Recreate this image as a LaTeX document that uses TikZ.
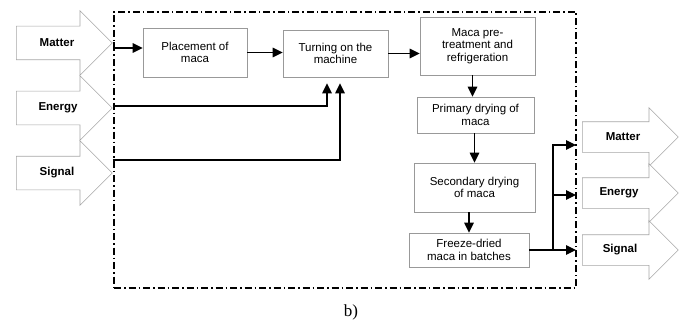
\documentclass[tikz,border=0pt]{standalone}
\usepackage{fontspec}
\setmainfont{Liberation Serif}
\setsansfont{Liberation Sans}
\usetikzlibrary{shapes.arrows,arrows.meta}

\begin{document}
\begin{tikzpicture}
[x=1pt,y=-1pt,%
  box/.style={draw=gray!80,line width=0.6pt,align=center,inner sep=1pt,%
    font=\sffamily\fontsize{11.5}{12.5}\selectfont},%
  inarrow/.style={single arrow,draw=gray!70,fill=white,line width=0.6pt,%
    single arrow tip angle=90,single arrow head extend=15.5pt,%
    minimum height=96pt,inner xsep=0pt,inner ysep=16.5pt,anchor=tail},%
  outarrow/.style={inarrow,single arrow head extend=14pt,inner ysep=15pt},%
  lbl/.style={font=\sffamily\bfseries\fontsize{11.5}{12.5}\selectfont},%
  frame/.style={draw,line width=1.5pt,dash pattern=on 7pt off 3pt on 1.5pt off 3pt},%
  flow/.style={draw,line width=1.1pt,-{Triangle[length=10pt,width=9.5pt]}}]
\useasboundingbox (0,0) rectangle (686,321);
% system border
\node[frame,minimum width=462pt,minimum height=276pt] (sys) at (345,150) {};
% inputs
\node[inarrow] (inM) at (16,43) {};
\node[inarrow] (inE) at (16,108) {};
\node[inarrow] (inS) at (16,173) {};
\node[lbl] (inMl) at (57,43) {Matter};
\node[lbl] (inEl) at (58,108) {Energy};
\node[lbl] (inSl) at (57,173) {Signal};
% outputs
\node[outarrow] (outM) at (582,137) {};
\node[outarrow] (outE) at (582,193) {};
\node[outarrow] (outS) at (582,250) {};
\node[lbl] (outMl) at (623,137) {Matter};
\node[lbl] (outEl) at (619,193) {Energy};
\node[lbl] (outSl) at (620,250) {Signal};
% process steps
\node[box,minimum width=104pt,minimum height=49pt] (place) at (195,52.5) {Placement of\\maca};
\node[box,minimum width=105pt,minimum height=47pt] (turn) at (335.5,53.5) {Turning on the\\machine};
\node[box,minimum width=115pt,minimum height=58pt] (pre) at (477.5,46) {Maca pre-\\treatment and\\refrigeration};
\node[box,minimum width=117pt,minimum height=36pt] (prim) at (475.5,115) {Primary drying of\\maca};
\node[box,minimum width=121pt,minimum height=49pt] (sec) at (474.5,187.5) {Secondary drying\\of maca};
\node[box,minimum width=120pt,minimum height=34pt] (frz) at (469,250) {Freeze-dried\\maca in batches};
\coordinate (jn) at (553,250);
% connectors
\draw[flow] (inM.tip) -- ++(2,0) |- ([yshift=4.5pt]place.west);
\draw[flow] (place.east) -- (place.east -| turn.west);
\draw[flow] (turn.east) -- (turn.east -| pre.west);
\draw[flow,shorten >=6pt] ([yshift=2pt]inE.tip) -| ([xshift=-8.5pt]turn.south);
\draw[flow,shorten >=6pt] ([yshift=13pt]inS.tip) -| ([xshift=4.5pt]turn.south);
\draw[flow] ([xshift=-3pt]prim.north |- pre.south) -- ([xshift=-3pt]prim.north);
\draw[flow] (prim.south -| sec.north) -- (sec.north);
\draw[flow] (sec.south -| frz.north) -- (frz.north);
\draw[line width=1.1pt] (frz.east) -- (jn);
\draw[flow,shorten >=6pt] (jn) -- (jn -| outS.tail);
\draw[flow,shorten >=6pt] (jn) |- ([yshift=-2pt]outE.tail);
\draw[flow,shorten >=6pt] (jn) |- ([yshift=-8pt]outM.tail);
% caption
\node[font=\fontsize{17}{19}\selectfont,anchor=base] (cap) at (351,316) {b)};
\end{tikzpicture}
\end{document}
